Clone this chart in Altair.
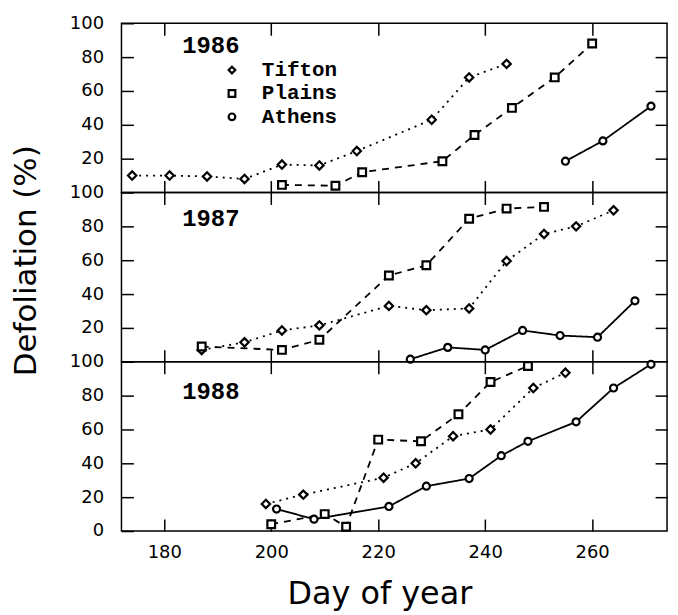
import altair as alt
import pandas as pd

SITES = ["Tifton", "Plains", "Athens"]
SHAPES = ["diamond", "square", "circle"]
SIZES = [70, 50, 110]
DASHES = [[2, 5], [7, 6], [1, 0]]
YEARS = [1986, 1987, 1988]
X_TICKS = [180, 200, 220, 240, 260]
X_DOMAIN = [172, 274]

# 1986
tifton_1986_day = [174, 181, 188, 195, 202, 209, 216, 230, 237, 244]
tifton_1986_def = [10, 10, 9.5, 8, 16.5, 16, 24.5, 43, 68, 76]
plains_1986_day = [202, 212, 217, 232, 238, 245, 253, 260]
plains_1986_def = [4.5, 4, 12, 18.5, 34, 50, 68, 88]
athens_1986_day = [255, 262, 271]
athens_1986_def = [18.5, 30.5, 51]

# 1987
tifton_1987_day = [187, 195, 202, 209, 222, 229, 237, 244, 251, 257, 264]
tifton_1987_def = [7, 11.5, 18.5, 21.5, 33, 30.5, 31.5, 59.5, 75.5, 80, 89.5]
plains_1987_day = [187, 202, 209, 222, 229, 237, 244, 251]
plains_1987_def = [9, 7, 13, 51, 57, 84.5, 90.5, 91.5]
athens_1987_day = [226, 233, 240, 247, 254, 261, 268]
athens_1987_def = [1.5, 8.5, 7, 18.5, 15.5, 14.5, 36]

# 1988
tifton_1988_day = [199, 206, 221, 227, 234, 241, 249, 255]
tifton_1988_def = [16, 21.5, 31.5, 40, 56, 60, 84.5, 93.5]
plains_1988_day = [200, 210, 214, 220, 228, 235, 241, 248]
plains_1988_def = [4, 10, 2.5, 54, 53, 69, 88, 97.5]
athens_1988_day = [201, 208, 222, 229, 237, 243, 248, 257, 264, 271]
athens_1988_def = [13, 7, 14.5, 26.5, 31, 44.5, 53, 64.5, 84.5, 98.5]

SERIES = {
    1986: {"Tifton": (tifton_1986_day, tifton_1986_def),
           "Plains": (plains_1986_day, plains_1986_def),
           "Athens": (athens_1986_day, athens_1986_def)},
    1987: {"Tifton": (tifton_1987_day, tifton_1987_def),
           "Plains": (plains_1987_day, plains_1987_def),
           "Athens": (athens_1987_day, athens_1987_def)},
    1988: {"Tifton": (tifton_1988_day, tifton_1988_def),
           "Plains": (plains_1988_day, plains_1988_def),
           "Athens": (athens_1988_day, athens_1988_def)},
}

W, H = 548, 170
TICK_FONT = "DejaVu Sans"
MONO = "Liberation Mono"
INWARD = {"expr": "-12"}


def panel(year, yvals, bottom, ytitle, legend, year_y):
    rows = []
    for site in SITES:
        days, vals = SERIES[year][site]
        for d, v in zip(days, vals):
            rows.append({"day": d, "defol": v, "site": site})
    df = pd.DataFrame(rows)

    xscale = alt.Scale(domain=X_DOMAIN, nice=False, zero=False)
    yscale = alt.Scale(domain=[0, 100], nice=False)
    common = dict(domain=False, grid=False, tickSize=INWARD,
                  tickColor="black", tickWidth=1.5, labelColor="black",
                  labelFont=TICK_FONT, labelFontSize=18, titleColor="black")

    if bottom:
        x_bottom = alt.Axis(orient="bottom", values=X_TICKS, labels=True, labelPadding=25,
                            format="d", title="Day of year", titleFont=TICK_FONT,
                            titleFontSize=32, titleFontWeight="normal", titleX=259, titleY=73,
                            titleAlign="center", titleBaseline="alphabetic", **common)
    else:
        x_bottom = alt.Axis(orient="bottom", values=X_TICKS, labels=False, title=None, **common)

    if ytitle:
        y_left = alt.Axis(orient="left", values=yvals, labelPadding=30, format="d",
                          title="Defoliation (%)", titleFont=TICK_FONT, titleFontSize=31,
                          titleFontWeight="normal", titleX=-95, titleY=68, titleAngle=270,
                          titleAlign="center", titleBaseline="middle", **common)
    else:
        y_left = alt.Axis(orient="left", values=yvals, labelPadding=30, format="d",
                          title=None, **common)

    x_top = alt.Axis(orient="top", values=X_TICKS, labels=False, title=None, **common)
    y_right = alt.Axis(orient="right", values=[20, 40, 60, 80], labels=False, title=None, **common)

    lines = alt.Chart(df).mark_line(color="black", strokeWidth=1.8).encode(
        x=alt.X("day:Q", scale=xscale, axis=x_bottom),
        y=alt.Y("defol:Q", scale=yscale, axis=y_left),
        strokeDash=alt.StrokeDash("site:N", scale=alt.Scale(domain=SITES, range=DASHES), legend=None),
        detail="site:N",
    )
    points = alt.Chart(df).mark_point(filled=True, fill="white", stroke="black",
                                      strokeWidth=2.2, opacity=1).encode(
        x=alt.X("day:Q", scale=xscale, axis=x_top),
        y=alt.Y("defol:Q", scale=yscale, axis=y_right),
        shape=alt.Shape("site:N", scale=alt.Scale(domain=SITES, range=SHAPES), legend=None),
        size=alt.Size("site:N", scale=alt.Scale(domain=SITES, range=SIZES), legend=None),
    )
    year_text = alt.Chart(pd.DataFrame({"year": [str(year)]})).mark_text(
        align="left", baseline="middle", font=MONO, fontWeight="bold", fontSize=24,
        color="black").encode(x=alt.value(61), y=alt.value(year_y), text="year:N")

    layers = [lines, points, year_text]
    if legend:
        for i, (site, shp) in enumerate(zip(SITES, SHAPES)):
            ly = 47 + i * 23.5
            one = pd.DataFrame({"site": [site]})
            layers.append(alt.Chart(one).mark_point(filled=True, fill="white", stroke="black",
                                                    strokeWidth=2.2, opacity=1).encode(
                x=alt.value(111), y=alt.value(ly), shape=alt.value(shp), size=alt.value(45)))
            layers.append(alt.Chart(one).mark_text(
                align="left", baseline="middle", font=MONO, fontWeight="bold", fontSize=21,
                color="black").encode(x=alt.value(141), y=alt.value(ly), text="site:N"))

    return alt.layer(*layers).resolve_axis(x="independent", y="independent").properties(
        width=W, height=H)


p86 = panel(1986, [20, 40, 60, 80, 100], False, False, True, 23)
p87 = panel(1987, [20, 40, 60, 80, 100], False, True, False, 27)
p88 = panel(1988, [0, 20, 40, 60, 80, 100], True, False, False, 30)

chart = alt.vconcat(p86, p87, p88, spacing=0, bounds="flush").properties(
    padding={"left": 10, "top": 12, "right": 9, "bottom": 5},
    background="white",
).configure_view(stroke="black", strokeWidth=1.5)

chart.save("out.html", embed_options={"renderer": "svg", "actions": False})
